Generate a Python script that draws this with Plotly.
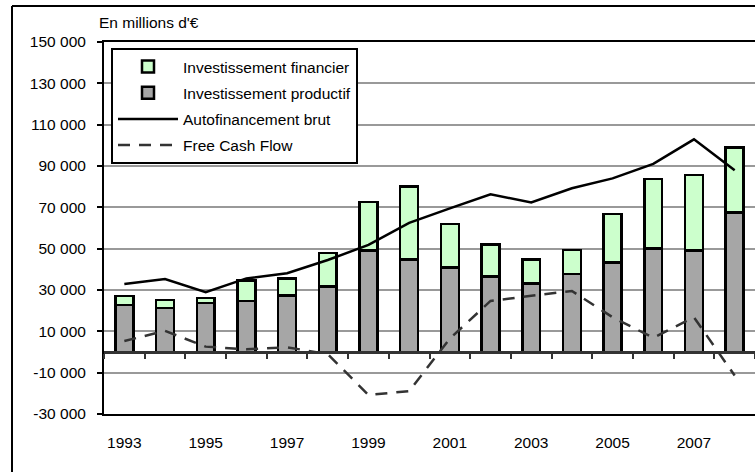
import plotly.graph_objects as go

years = list(range(1993, 2009))
inv_productif = [22700, 21300, 23700, 24800, 27400, 31600, 49000, 44800,
                 40800, 36600, 33200, 37700, 43200, 50200, 49000, 67400]
inv_financier = [4500, 3900, 2400, 9900, 8100, 16400, 23700, 35200,
                 21100, 15500, 11600, 11600, 23600, 33500, 36600, 31600]
autofinancement = [32900, 35300, 28900, 35600, 38100, 44500, 51800, 62500,
                   69500, 76300, 72400, 79200, 84000, 91000, 102900, 88000]
free_cash_flow = [5300, 10200, 2600, 1300, 2300, -1000, -20800, -18900,
                  6500, 24700, 27200, 29500, 16800, 6900, 16800, -11400]

y_tickvals = [150000, 130000, 110000, 90000, 70000, 50000, 30000, 10000, -10000, -30000]
y_ticktext = ["150 000", "130 000", "110 000", "90 000", "70 000", "50 000",
              "30 000", "10 000", "-10 000", "-30 000"]
x_tickvals = [1993, 1995, 1997, 1999, 2001, 2003, 2005, 2007]
x_boundaries = [y + 0.5 for y in range(1992, 2009)]

FONT = "Liberation Sans, Arial, sans-serif"
FS = 15.5
W, H = 755, 472
ML, MR, MT, MB = 104, 0, 42, 58
PW, PH = W - ML - MR, H - MT - MB

fig = go.Figure()
fig.add_trace(go.Bar(
    x=years, y=inv_productif, name="Investissement productif",
    marker=dict(color="#A6A6A6", line=dict(color="black", width=2.5)),
    width=0.44, legendrank=2, legendgroup="b",
))
fig.add_trace(go.Bar(
    x=years, y=inv_financier, name="Investissement financier",
    marker=dict(color="#CCFFCC", line=dict(color="black", width=2.5)),
    width=0.44, legendrank=1, legendgroup="a",
))
fig.add_trace(go.Scatter(
    x=years, y=autofinancement, name="Autofinancement brut", mode="lines",
    line=dict(color="black", width=2.5), legendrank=3, legendgroup="c",
))
fig.add_trace(go.Scatter(
    x=years, y=free_cash_flow, name="Free Cash Flow", mode="lines",
    line=dict(color="#333333", width=2.5, dash="12px,9px"), legendrank=4, legendgroup="d",
))
# invisible trace to host the zero-line axis with boundary ticks
fig.add_trace(go.Scatter(
    x=years, y=[0] * len(years), xaxis="x2", mode="lines",
    line=dict(width=0), showlegend=False, hoverinfo="skip", opacity=0,
))

fig.update_layout(
    width=W, height=H,
    margin=dict(l=ML, r=MR, t=MT, b=MB),
    paper_bgcolor="white", plot_bgcolor="white",
    barmode="stack",
    font=dict(family=FONT, size=FS, color="black"),
    showlegend=True,
    legend=dict(
        x=(111 - ML) / PW, y=1 - (48 - MT) / PH, xanchor="left", yanchor="top",
        bgcolor="white", bordercolor="black", borderwidth=2,
        font=dict(family=FONT, size=FS, color="black"),
        traceorder="grouped", tracegroupgap=3, itemwidth=60,
    ),
    xaxis=dict(
        range=[1992.5, 2008.5], tickmode="array", tickvals=x_tickvals,
        ticktext=[str(v) for v in x_tickvals],
        showgrid=False, zeroline=False, ticks="", showline=True,
        linecolor="black", linewidth=2, mirror=True,
        ticklabelstandoff=13, tickfont=dict(size=FS),
    ),
    xaxis2=dict(
        overlaying="x", anchor="free", position=30000 / 180000,
        range=[1992.5, 2008.5], tickmode="array", tickvals=x_boundaries,
        showticklabels=False, ticks="outside", ticklen=5, tickwidth=2,
        tickcolor="#333333", showline=True, linecolor="#333333", linewidth=3,
        showgrid=False, zeroline=False,
    ),
    yaxis=dict(
        range=[-30000, 150000], tickmode="array", tickvals=y_tickvals,
        ticktext=y_ticktext, showgrid=True, gridcolor="#999999", gridwidth=1.5,
        zeroline=False, showline=True, linecolor="black", linewidth=2,
        ticks="outside", ticklen=5, tickcolor="black", tickwidth=1.5,
        ticklabelstandoff=8, tickfont=dict(size=FS),
    ),
    annotations=[dict(
        text="En millions d'€", xref="paper", yref="paper",
        x=(97 - ML) / PW, y=1 + (MT - 22) / PH, xanchor="left", yanchor="middle",
        showarrow=False, font=dict(family=FONT, size=FS, color="black"),
    )],
    shapes=[
        dict(type="line", xref="paper", yref="paper",
             x0=(12 - ML) / PW, x1=(12 - ML) / PW, y0=-0.3, y1=1 + (MT - 6) / PH,
             line=dict(color="black", width=2), layer="below"),
        dict(type="line", xref="paper", yref="paper",
             x0=(12 - ML) / PW, x1=1.05, y0=1 + (MT - 6) / PH, y1=1 + (MT - 6) / PH,
             line=dict(color="black", width=2), layer="below"),
    ],
)

fig.write_html(
    "out.html",
    config={"displayModeBar": False},
    post_script=(
        "document.body.style.margin='0';"
        "document.body.style.overflow='hidden';"
        "document.documentElement.style.overflow='hidden';"
    ),
)
